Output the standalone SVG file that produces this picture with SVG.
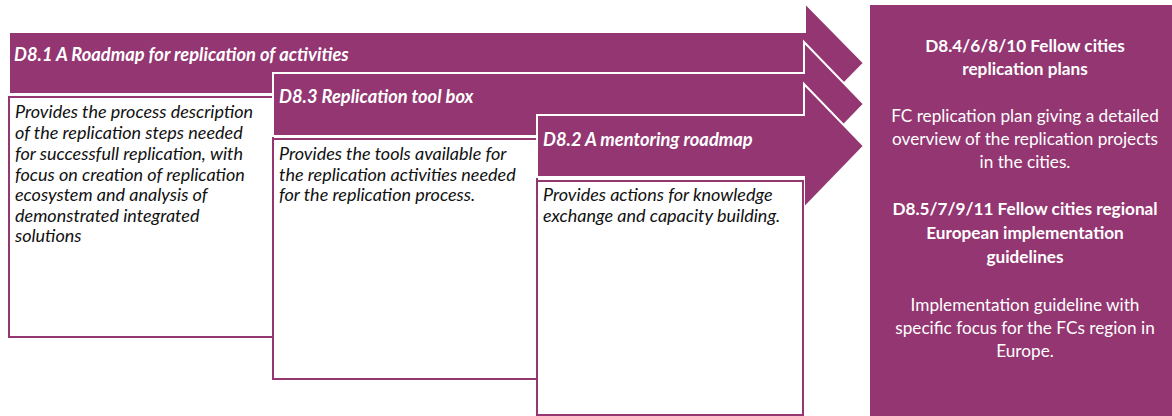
<svg xmlns="http://www.w3.org/2000/svg" width="1172" height="416" viewBox="0 0 1172 416">
<style>
.arrow{fill:#933671;stroke:#ffffff;stroke-width:2}
.box{fill:#ffffff;stroke:#933671;stroke-width:2}
.panel{fill:#933671}
.title{font-family:Lato,"Open Sans",sans-serif;font-size:18.3px;font-weight:bold;font-style:italic;fill:#ffffff}
.body{font-family:Lato,"Open Sans",sans-serif;font-size:18px;font-style:italic;fill:#111111}
.rt{font-family:Lato,"Open Sans",sans-serif;font-size:17.2px;fill:#ffffff;text-anchor:middle}
.rb{font-family:Lato,"Open Sans",sans-serif;font-size:17.2px;font-weight:bold;fill:#ffffff;text-anchor:middle}
</style>
<rect width="1172" height="416" fill="#ffffff"/>
<g id="connectors"></g>
<g id="d81">
<polygon class="arrow" points="9,32 805,32 805,3 864,63 805,123 805,94 9,94"/>
<text class="title" x="14" y="61">D8.1 A Roadmap for replication of activities</text>
<rect class="box" x="9" y="97" width="264" height="240"/>
<text class="body"><tspan x="15" y="118">Provides the process description</tspan><tspan x="15" y="139">of the replication steps needed</tspan><tspan x="15" y="160">for successfull replication, with</tspan><tspan x="15" y="181">focus on creation of replication</tspan><tspan x="15" y="201">ecosystem and analysis of</tspan><tspan x="15" y="222">demonstrated integrated</tspan><tspan x="15" y="242">solutions</tspan></text>
</g>
<g id="d83">
<polygon class="arrow" points="273,73 804,73 804,42 864,104 804,166 804,136 273,136"/>
<text class="title" x="279" y="103">D8.3 Replication tool box</text>
<rect class="box" x="273" y="139" width="264" height="240"/>
<text class="body"><tspan x="279" y="160">Provides the tools available for</tspan><tspan x="279" y="181">the replication activities needed</tspan><tspan x="279" y="201">for the replication process.</tspan></text>
</g>
<g id="d82">
<polygon class="arrow" points="537,115 804,115 804,84 864,146 804,208 804,177 537,177"/>
<text class="title" x="543" y="146">D8.2 A mentoring roadmap</text>
<rect class="box" x="537" y="181" width="266" height="234"/>
<text class="body"><tspan x="543" y="201">Provides actions for knowledge</tspan><tspan x="543" y="222">exchange and capacity building.</tspan></text>
</g>
<g id="d84">
<rect class="panel" x="870" y="5" width="310" height="412"/>
<text class="rb" x="1025" y="52">D8.4/6/8/10 Fellow cities</text>
<text class="rb" x="1025" y="75">replication plans</text>
<text class="rt" x="1025" y="122">FC replication plan giving a detailed</text>
<text class="rt" x="1025" y="145">overview of the replication projects</text>
<text class="rt" x="1025" y="168">in the cities.</text>
<text class="rb" x="1025" y="215">D8.5/7/9/11 Fellow cities regional</text>
<text class="rb" x="1025" y="239">European implementation</text>
<text class="rb" x="1025" y="263">guidelines</text>
<text class="rt" x="1025" y="311">Implementation guideline with</text>
<text class="rt" x="1025" y="334">specific focus for the FCs region in</text>
<text class="rt" x="1025" y="357">Europe.</text>
</g>
</svg>
